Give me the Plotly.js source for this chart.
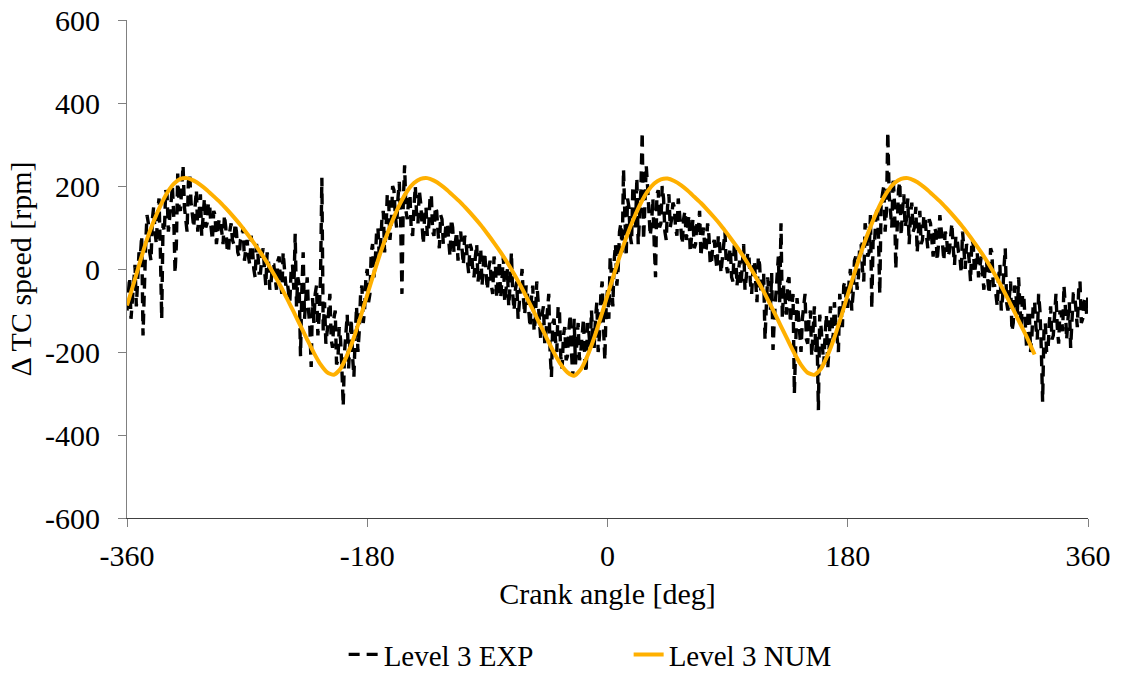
<!DOCTYPE html>
<html>
<head>
<meta charset="utf-8">
<script src="https://cdn.plot.ly/plotly-3.0.1.min.js"></script>
<style>html,body{margin:0;padding:0;background:#fff;}#chart{width:1125px;height:677px;}</style>
</head>
<body>
<div id="chart"></div>
<script>
// Experimental crank-angle samples [deg]
const expAngle = [
-360,-359,-358,-357,-356,-355,-354,-353,-352,-351, -350,-349,-348,-347,-346,-345,-344,-343,-342,-341,
-340,-339,-338,-337,-336,-335,-334,-333,-332,-331, -330,-329,-328,-327,-326,-325,-324,-323,-322,-321,
-320,-319,-318,-317,-316,-315,-314,-313,-312,-311, -310,-309,-308,-307,-306,-305,-304,-303,-302,-301,
-300,-299,-298,-297,-296,-295,-294,-293,-292,-291, -290,-289,-288,-287,-286,-285,-284,-283,-282,-281,
-280,-279,-278,-277,-276,-275,-274,-273,-272,-271, -270,-269,-268,-267,-266,-265,-264,-263,-262,-261,
-260,-259,-258,-257,-256,-255,-254,-253,-252,-251, -250,-249,-248,-247,-246,-245,-244,-243,-242,-241,
-240,-239,-238,-237,-236,-235,-234,-233,-232,-231, -230,-229,-228,-227,-226,-225,-224,-223,-222,-221,
-220,-219,-218,-217,-216,-215,-214,-213,-212,-211, -210,-209,-208,-207,-206,-205,-204,-203,-202,-201,
-200,-199,-198,-197,-196,-195,-194,-193,-192,-191, -190,-189,-188,-187,-186,-185,-184,-183,-182,-181,
-180,-179,-178,-177,-176,-175,-174,-173,-172,-171, -170,-169,-168,-167,-166,-165,-164,-163,-162,-161,
-160,-159,-158,-157,-156,-155,-154,-153,-152,-151, -150,-149,-148,-147,-146,-145,-144,-143,-142,-141,
-140,-139,-138,-137,-136,-135,-134,-133,-132,-131, -130,-129,-128,-127,-126,-125,-124,-123,-122,-121,
-120,-119,-118,-117,-116,-115,-114,-113,-112,-111, -110,-109,-108,-107,-106,-105,-104,-103,-102,-101,
-100,-99,-98,-97,-96,-95,-94,-93,-92,-91, -90,-89,-88,-87,-86,-85,-84,-83,-82,-81,
-80,-79,-78,-77,-76,-75,-74,-73,-72,-71, -70,-69,-68,-67,-66,-65,-64,-63,-62,-61,
-60,-59,-58,-57,-56,-55,-54,-53,-52,-51, -50,-49,-48,-47,-46,-45,-44,-43,-42,-41,
-40,-39,-38,-37,-36,-35,-34,-33,-32,-31, -30,-29,-28,-27,-26,-25,-24,-23,-22,-21,
-20,-19,-18,-17,-16,-15,-14,-13,-12,-11, -10,-9,-8,-7,-6,-5,-4,-3,-2,-1,
0,1,2,3,4,5,6,7,8,9, 10,11,12,13,14,15,16,17,18,19,
20,21,22,23,24,25,26,27,28,29, 30,31,32,33,34,35,36,37,38,39,
40,41,42,43,44,45,46,47,48,49, 50,51,52,53,54,55,56,57,58,59,
60,61,62,63,64,65,66,67,68,69, 70,71,72,73,74,75,76,77,78,79,
80,81,82,83,84,85,86,87,88,89, 90,91,92,93,94,95,96,97,98,99,
100,101,102,103,104,105,106,107,108,109, 110,111,112,113,114,115,116,117,118,119,
120,121,122,123,124,125,126,127,128,129, 130,131,132,133,134,135,136,137,138,139,
140,141,142,143,144,145,146,147,148,149, 150,151,152,153,154,155,156,157,158,159,
160,161,162,163,164,165,166,167,168,169, 170,171,172,173,174,175,176,177,178,179,
180,181,182,183,184,185,186,187,188,189, 190,191,192,193,194,195,196,197,198,199,
200,201,202,203,204,205,206,207,208,209, 210,211,212,213,214,215,216,217,218,219,
220,221,222,223,224,225,226,227,228,229, 230,231,232,233,234,235,236,237,238,239,
240,241,242,243,244,245,246,247,248,249, 250,251,252,253,254,255,256,257,258,259,
260,261,262,263,264,265,266,267,268,269, 270,271,272,273,274,275,276,277,278,279,
280,281,282,283,284,285,286,287,288,289, 290,291,292,293,294,295,296,297,298,299,
300,301,302,303,304,305,306,307,308,309, 310,311,312,313,314,315,316,317,318,319,
320,321,322,323,324,325,326,327,328,329, 330,331,332,333,334,335,336,337,338,339,
340,341,342,343,344,345,346,347,348,349, 350,351,352,353,354,355,356,357,358,359,
360];
// Experimental delta TC speed [rpm]
const expSpeed = [
-100,-60,-20,-120,-70,-10,10,-90,-40,40, 30,80,-160,0,60,130,110,40,20,120,
150,90,60,140,170,40,-120,110,90,190, 180,90,120,160,200,130,-10,60,230,150,
140,200,250,150,110,90,210,230,160,120, 100,150,190,90,130,180,80,120,170,100,
110,160,150,100,70,140,130,60,90,120, 120,80,60,130,100,50,40,90,110,70,
60,110,90,40,30,70,80,100,20,50, 70,30,10,80,50,0,-20,60,40,-10,
-10,30,50,0,-40,40,20,-50,-30,10, 10,-20,-50,20,30,-30,-60,40,0,-40,
-30,-60,-80,0,10,-50,85,-90,-20,-40, -210,-50,40,-120,-60,-20,-100,-140,-236,-70,
-130,-60,-40,-160,-110,-20,220,-150,-80,-180, -150,-100,-60,-170,-190,-120,-100,-230,-220,-140,
-170,-240,-330,-200,-140,-110,-240,-180,-120,-210, -260,-160,-90,-200,-150,-60,-40,-130,-100,-20,
0,-80,-60,40,60,-20,20,90,100,30, 60,120,140,40,90,180,170,70,110,200,
190,130,100,170,210,120,-60,160,250,140, 120,170,180,90,80,150,200,130,110,190,
160,110,60,130,150,80,100,170,180,90, 80,150,140,90,50,130,120,60,70,110,
110,70,30,120,100,40,60,90,20,80, 90,40,10,80,70,20,-10,60,50,0,
-20,30,60,-30,0,50,-40,10,40,-10, -50,0,20,-40,-60,30,10,-70,-30,20,
-70,-20,30,-80,-50,0,-90,-40,40,-60, -100,-50,-30,-120,-80,-20,0,-70,-110,-40,
-60,-100,-140,-70,-40,-150,-120,-30,-80,-130, -170,-110,-90,-180,-150,-100,-60,-200,-260,-130,
-120,-170,-200,-90,-100,-210,-240,-160,-140,-220, -210,-150,-110,-200,-260,-120,-230,-180,-130,-220,
-200,-160,-120,-220,-250,-130,-150,-190,-100,-170, -190,-120,-80,-200,-160,-60,-30,-140,-220,-90,
-50,-120,30,-20,-90,20,60,-40,0,90, 110,40,240,130,30,170,150,80,60,200,
180,100,220,60,120,190,330,70,150,250, 200,140,80,110,170,60,-20,180,190,100,
110,200,170,90,70,150,180,100,120,160, 150,100,80,170,130,90,60,120,140,70,
100,130,40,80,120,50,60,110,90,140, 30,70,100,40,50,110,80,10,20,60,
70,30,0,80,60,-10,20,50,90,10, -10,30,50,-20,-30,60,40,-40,0,20,
-40,10,60,-50,-20,40,30,-30,-60,0, 20,-30,-80,30,10,-60,-50,-10,-170,-90,
-20,-60,-100,-10,-195,-120,-70,-40,30,-80, 110,-120,-40,-70,-110,-30,-20,-130,-90,-60,
-300,-140,-70,-110,-160,-200,-120,-90,-60,-170, -180,-120,-100,-210,-150,-90,-200,-160,-340,-110,
-140,-200,-230,-160,-110,-240,-190,-90,-120,-170, -80,-130,-170,-200,-60,-110,-140,-40,-30,-90,
-90,-30,0,-100,-60,20,30,-50,-20,60, 60,0,-30,110,90,30,40,130,-95,70,
60,120,150,80,-60,160,180,200,90,140, 330,180,140,100,220,160,0,120,190,210,
80,140,180,100,120,170,60,130,160,90, 100,150,40,90,140,60,70,130,120,80,
50,120,110,70,30,100,90,20,60,130, 100,60,20,90,80,30,40,70,110,50,
10,80,70,40,30,-10,90,50,0,60, 50,20,-30,70,60,-10,10,40,-20,0,
30,-10,-50,10,20,-30,-60,50,40,-40, -40,-60,-90,-20,10,-100,-70,0,50,-80,
-100,-70,-30,-150,-130,-40,-60,-110,-20,-90, -140,-60,-70,-130,-190,-110,-100,-200,-160,-80,
-80,-140,-170,-60,-100,-190,-320,-150,-130,-200, -200,-130,-90,-170,-160,-110,-60,-140,-180,-100,
-110,-150,-40,-90,-170,-120,-80,-190,-130,-60, -60,-100,-140,-50,-30,-130,-120,-80,-70,-110,
-60];

// Numerical model crank angle [deg]
const numAngle = [
-360,-355,-350,-345,-340,-335,-330,-325,-320,-315,-310,-305,-300,-295,-290,-285,-280,-275,-270,-265,
-260,-255,-250,-245,-240,-235,-230,-225,-220,-215,-210,-205,-200,-195,-190,-185,-180,-175,-170,-165,
-160,-155,-150,-145,-140,-135,-130,-125,-120,-115,-110,-105,-100,-95,-90,-85,-80,-75,-70,-65,
-60,-55,-50,-45,-40,-35,-30,-25,-20,-15,-10,-5,0,5,10,15,20,25,30,35,
40,45,50,55,60,65,70,75,80,85,90,95,100,105,110,115,120,125,130,135,
140,145,150,155,160,165,170,175,180,185,190,195,200,205,210,215,220,225,230,235,
240,245,250,255,260,265,270,275,280,285,290,295,300,305,310,315,320];
// Numerical model delta TC speed [rpm]
const numSpeed = [
-88,-35,20,72,115,152,183,205,217,219,213,203,190,175,160,143,125,106,85,63,
40,15,-12,-41,-72,-104,-137,-170,-202,-230,-249,-255,-240,-207,-165,-115,-62,-10,40,85,
125,160,188,207,217,219,213,203,190,175,160,143,125,106,85,63,40,15,-12,-41,
-72,-104,-137,-170,-202,-230,-249,-257,-242,-209,-166,-116,-63,-11,39,84,124,159,187,206,
216,218,212,202,189,174,159,142,124,105,84,62,39,14,-13,-42,-73,-105,-138,-171,
-203,-231,-250,-255,-240,-207,-165,-115,-62,-10,40,85,125,160,188,207,217,219,213,203,
190,175,160,143,125,106,85,63,40,15,-12,-41,-72,-104,-137,-170,-206];

const xTicks = [-360, -180, 0, 180, 360];
const yTicks = [-600, -400, -200, 0, 200, 400, 600];
const seriesNames = ['Level 3 EXP', 'Level 3 NUM'];

const FONT = "'Liberation Serif', 'Times New Roman', Times, serif";

const traces = [
  {
    x: expAngle, y: expSpeed, name: seriesNames[0], type: 'scatter', mode: 'lines',
    line: {color: '#000000', width: 3.4, dash: '11px,7px'}
  },
  {
    x: numAngle, y: numSpeed, name: seriesNames[1], type: 'scatter', mode: 'lines',
    line: {color: '#FFB000', width: 4, shape: 'spline', smoothing: 0.6}
  }
];

const layout = {
  width: 1125, height: 677,
  margin: {l: 127, r: 37, t: 20, b: 159, autoexpand: false},
  paper_bgcolor: '#ffffff', plot_bgcolor: '#ffffff',
  font: {family: FONT, size: 30, color: '#000000'},
  showlegend: true,
  legend: {
    orientation: 'h', x: 0.522, xanchor: 'center', y: -0.223, yanchor: 'top',
    font: {family: FONT, size: 29, color: '#000000'},
    entrywidth: 240, itemwidth: 30, tracegroupgap: 0
  },
  xaxis: {
    range: [-360, 360], tickvals: xTicks, ticktext: xTicks.map(String),
    ticks: 'outside', ticklen: 8, tickcolor: '#808080', tickwidth: 1,
    showline: true, linecolor: '#404040', linewidth: 1,
    showgrid: false, zeroline: false, fixedrange: true,
    ticklabelstandoff: 3,
    tickfont: {family: FONT, size: 30, color: '#000000'},
    title: {text: 'Crank angle [deg]', font: {family: FONT, size: 30, color: '#000000'}, standoff: 11},
    automargin: false
  },
  yaxis: {
    range: [-600, 600], tickvals: yTicks, ticktext: yTicks.map(String),
    ticks: 'outside', ticklen: 8, tickcolor: '#808080', tickwidth: 1,
    showline: true, linecolor: '#808080', linewidth: 1,
    showgrid: false, zeroline: false, fixedrange: true,
    ticklabelstandoff: 12,
    tickfont: {family: FONT, size: 30, color: '#000000'},
    title: {text: '\u0394 TC speed [rpm]', font: {family: FONT, size: 30, color: '#000000'}, standoff: 4},
    automargin: false
  }
};

Plotly.newPlot('chart', traces, layout, {displayModeBar: false, staticPlot: true});
</script>
</body>
</html>
